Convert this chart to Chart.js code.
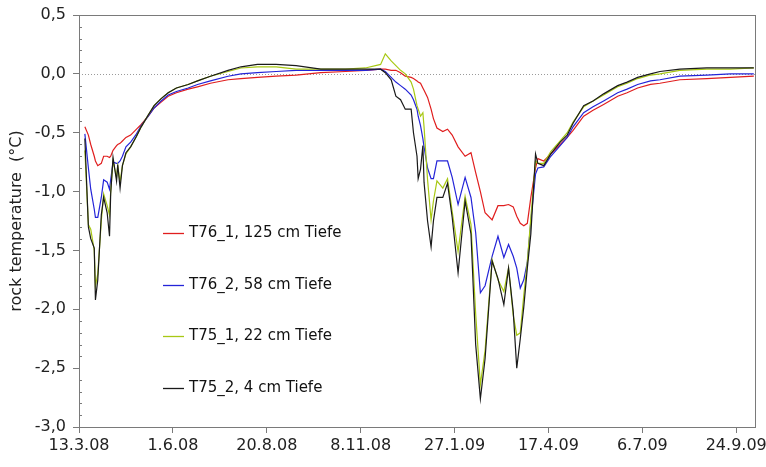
<!DOCTYPE html>
<html>
<head>
<meta charset="utf-8">
<script src="https://cdn.jsdelivr.net/npm/chart.js@4.4.1/dist/chart.umd.min.js"></script>
<style>
  body { margin: 0; background: #fff; }
</style>
</head>
<body>
<canvas id="chart" width="766" height="467"></canvas>
<script>
// day 0 = 13.3.08
const startDate = Date.UTC(2008, 2, 13);

const days = [
  5, 8, 10, 13, 14, 16, 19, 21, 24, 26,
  27, 29, 32, 33, 35, 37, 40, 44, 49, 53,
  59, 64, 70, 76, 83, 93, 101, 112, 127, 138,
  152, 168, 185, 206, 227, 244, 257, 261, 266, 270,
  274, 278, 283, 285, 288, 289, 291, 293, 294, 297,
  300, 302, 305, 310, 314, 318, 323, 329, 334, 338,
  342, 346, 352, 357, 362, 366, 370, 373, 376, 379,
  382, 385, 389, 391, 396, 402, 410, 416, 421, 430,
  438, 447, 459, 467, 476, 487, 495, 512, 535, 555,
  575
];

const t76_1 = [
  -0.45, -0.52, -0.60, -0.70, -0.74, -0.78, -0.76, -0.70, -0.70, -0.71,
  -0.70, -0.65, -0.61, -0.60, -0.59, -0.57, -0.54, -0.52, -0.47, -0.43,
  -0.36, -0.29, -0.24, -0.19, -0.16, -0.13, -0.11, -0.08, -0.05, -0.04,
  -0.03, -0.02, -0.01, 0.01, 0.02, 0.03, 0.04, 0.04, 0.03, 0.03,
  0.01, -0.02, -0.03, -0.04, -0.06, -0.07, -0.08, -0.12, -0.14, -0.20,
  -0.30, -0.38, -0.46, -0.49, -0.47, -0.52, -0.62, -0.70, -0.67, -0.84,
  -1.00, -1.18, -1.24, -1.12, -1.12, -1.11, -1.13, -1.21, -1.27, -1.29,
  -1.27, -1.05, -0.80, -0.72, -0.74, -0.68, -0.60, -0.54, -0.48, -0.36,
  -0.31, -0.26, -0.19, -0.16, -0.12, -0.09, -0.08, -0.05, -0.04, -0.03,
  -0.02
];

const t76_2 = [
  -0.51, -0.80, -0.98, -1.15, -1.22, -1.22, -1.05, -0.90, -0.92, -0.98,
  -0.90, -0.75, -0.76, -0.76, -0.74, -0.70, -0.62, -0.58, -0.51, -0.44,
  -0.36, -0.29, -0.23, -0.18, -0.15, -0.12, -0.09, -0.06, -0.02, 0.00,
  0.01, 0.02, 0.03, 0.03, 0.03, 0.03, 0.04, 0.02, -0.03, -0.07,
  -0.10, -0.13, -0.18, -0.22, -0.30, -0.36, -0.44, -0.55, -0.62, -0.80,
  -0.89, -0.89, -0.74, -0.74, -0.74, -0.88, -1.11, -0.88, -1.05, -1.35,
  -1.86, -1.80, -1.55, -1.38, -1.56, -1.45, -1.55, -1.65, -1.82, -1.75,
  -1.60, -1.25, -0.85, -0.80, -0.79, -0.70, -0.61, -0.54, -0.45, -0.33,
  -0.28, -0.23, -0.16, -0.13, -0.09, -0.06, -0.05, -0.02, -0.01, 0.00,
  0.00
];

const t75_1 = [
  -0.65, -1.28, -1.32, -1.50, -1.80, -1.70, -1.25, -1.02, -1.12, -1.20,
  -1.00, -0.74, -0.88, -0.78, -0.92, -0.78, -0.68, -0.62, -0.53, -0.45,
  -0.35, -0.27, -0.21, -0.16, -0.12, -0.09, -0.06, -0.02, 0.02, 0.05,
  0.06, 0.06, 0.04, 0.04, 0.04, 0.05, 0.08, 0.17, 0.11, 0.07,
  0.03, 0.00, -0.07, -0.13, -0.27, -0.30, -0.36, -0.33, -0.45, -0.90,
  -1.24, -1.08, -0.91, -0.97, -0.89, -1.17, -1.51, -1.04, -1.28, -2.04,
  -2.64, -2.35, -1.58, -1.75, -1.85, -1.65, -2.05, -2.22, -2.20, -1.88,
  -1.60, -1.22, -0.74, -0.76, -0.76, -0.66, -0.57, -0.50, -0.41, -0.28,
  -0.23, -0.18, -0.11, -0.08, -0.04, -0.01, 0.00, 0.03, 0.04, 0.04,
  0.05
];

const t75_2 = [
  -0.55, -1.30, -1.40, -1.48, -1.92, -1.75, -1.20, -1.05, -1.18, -1.38,
  -1.02, -0.71, -0.91, -0.77, -0.97, -0.78, -0.67, -0.62, -0.53, -0.45,
  -0.35, -0.27, -0.21, -0.16, -0.12, -0.09, -0.06, -0.02, 0.03, 0.06,
  0.08, 0.08, 0.07, 0.04, 0.04, 0.04, 0.04, 0.01, -0.05, -0.19,
  -0.22, -0.30, -0.30, -0.50, -0.70, -0.89, -0.81, -0.61, -0.92, -1.25,
  -1.47, -1.25, -1.05, -1.05, -0.93, -1.22, -1.69, -1.08, -1.36, -2.30,
  -2.76, -2.42, -1.59, -1.74, -1.96, -1.65, -2.02, -2.50, -2.25, -1.98,
  -1.65, -1.36, -0.68, -0.76, -0.78, -0.68, -0.58, -0.52, -0.42, -0.27,
  -0.23, -0.17, -0.10, -0.07, -0.03, 0.00, 0.02, 0.04, 0.05, 0.05,
  0.05
];

const seriesLabels = ['T76_1, 125 cm Tiefe', 'T76_2, 58 cm Tiefe', 'T75_1, 22 cm Tiefe', 'T75_2, 4 cm Tiefe'];
const seriesColors = ['#e01e1e', '#2424d8', '#a8c814', '#1a1a1a'];
const seriesValues = [t76_1, t76_2, t75_1, t75_2];

const FONT = '"DejaVu Sans", Verdana, sans-serif';

function fmtDate(d) {
  const dt = new Date(startDate + d * 86400000);
  return dt.getUTCDate() + '.' + (dt.getUTCMonth() + 1) + '.' + String(dt.getUTCFullYear()).slice(2);
}

// zero line, frame, minor ticks and the legend inside the plot
const extras = {
  id: 'extras',
  beforeDatasetsDraw(chart) {
    const { ctx, chartArea: a, scales: { y } } = chart;
    const y0 = Math.round(y.getPixelForValue(0)) + 0.5;
    ctx.save();
    ctx.strokeStyle = '#9a9a9a';
    ctx.lineWidth = 1;
    ctx.setLineDash([1, 2]);
    ctx.beginPath();
    ctx.moveTo(a.left, y0);
    ctx.lineTo(a.right, y0);
    ctx.stroke();
    ctx.restore();
  },
  afterDraw(chart) {
    const { ctx, chartArea: a, scales: { y } } = chart;
    ctx.save();
    ctx.strokeStyle = '#7a7a7a';
    ctx.lineWidth = 1;
    ctx.strokeRect(Math.round(a.left) + 0.5, Math.round(a.top) + 0.5,
      Math.round(a.right - a.left), Math.round(a.bottom - a.top));
    // minor ticks every 0.1
    ctx.beginPath();
    for (let i = -30; i <= 5; i++) {
      if (i % 5 === 0) continue;
      const py = Math.round(y.getPixelForValue(i / 10)) + 0.5;
      ctx.moveTo(a.left, py);
      ctx.lineTo(a.left + 3, py);
    }
    ctx.stroke();

    // legend, in series order
    ctx.font = '15px ' + FONT;
    ctx.textBaseline = 'middle';
    seriesLabels.forEach((label, i) => {
      const ly = Math.round(a.top + 218 + i * 51.5) + 0.5;
      ctx.strokeStyle = seriesColors[i];
      ctx.lineWidth = 1.3;
      ctx.beginPath();
      ctx.moveTo(a.left + 84, ly);
      ctx.lineTo(a.left + 105, ly);
      ctx.stroke();
      ctx.fillStyle = '#111';
      ctx.fillText(label, a.left + 110, ly);
    });
    ctx.restore();
  }
};

new Chart(document.getElementById('chart'), {
  type: 'line',
  data: {
    // black (4 cm) drawn on top, red underneath
    datasets: seriesValues.map((vals, k) => ({
      label: seriesLabels[k],
      data: days.map((d, i) => ({ x: d, y: vals[i] })),
      borderColor: seriesColors[k],
      borderWidth: 1.2,
      pointRadius: 0,
      fill: false,
      tension: 0
    })).reverse()
  },
  options: {
    responsive: false,
    animation: false,
    layout: { padding: { top: 15, right: 11, left: 0, bottom: 0 } },
    plugins: {
      legend: { display: false },
      tooltip: { enabled: false }
    },
    scales: {
      x: {
        type: 'linear',
        min: 0,
        max: 576,
        afterFit: s => { s.height = 40; s.paddingLeft = 0; s.paddingRight = 0; },
        border: { display: false },
        grid: { drawOnChartArea: false, tickLength: 6, color: '#7a7a7a', tickColor: '#7a7a7a' },
        ticks: {
          stepSize: 80,
          includeBounds: false,
          padding: 3,
          color: '#222',
          font: { family: FONT, size: 16 },
          maxRotation: 0,
          autoSkip: false,
          callback: v => fmtDate(v)
        }
      },
      y: {
        min: -3,
        max: 0.5,
        afterFit: s => { s.width = 79; s.paddingTop = 0; s.paddingBottom = 0; },
        border: { display: false },
        grid: { drawOnChartArea: false, tickLength: 6, color: '#7a7a7a', tickColor: '#7a7a7a' },
        title: {
          display: true,
          text: 'rock temperature  (°C)',
          color: '#222',
          font: { family: FONT, size: 16 },
          padding: { top: 7, bottom: 0 }
        },
        ticks: {
          stepSize: 0.5,
          padding: 7,
          color: '#222',
          font: { family: FONT, size: 16 },
          callback: v => v.toFixed(1).replace('.', ',')
        }
      }
    }
  },
  plugins: [extras]
});
</script>
</body>
</html>
